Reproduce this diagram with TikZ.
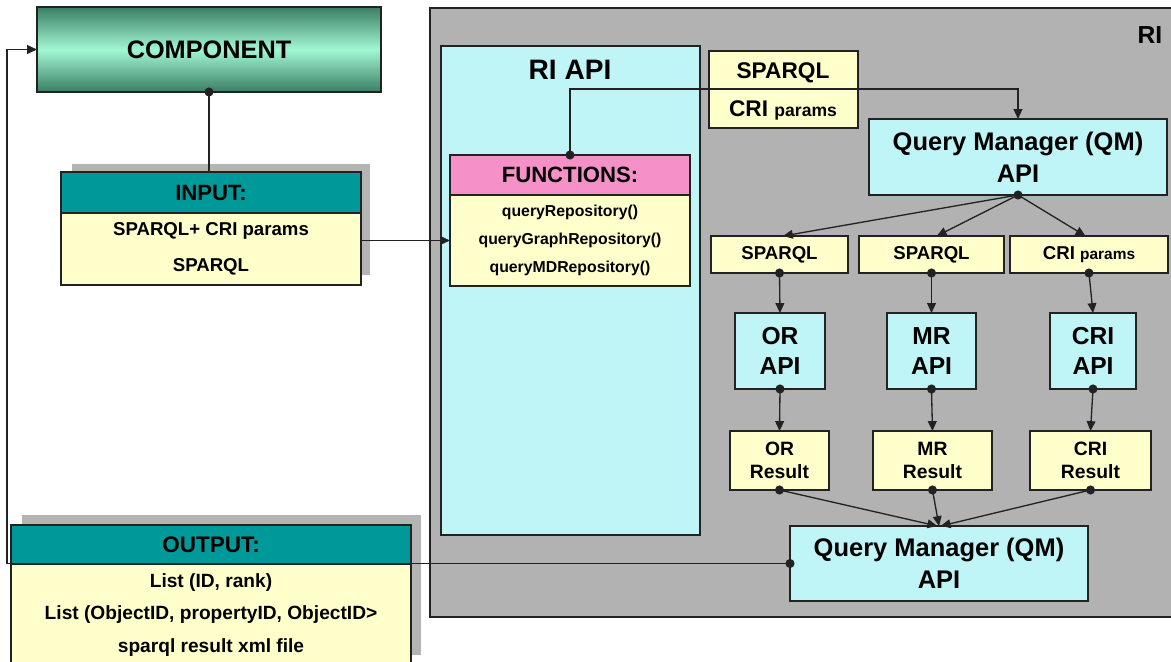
\documentclass[tikz,border=0pt]{standalone}
\usepackage{fontspec}
\setmainfont{Liberation Sans}
\usetikzlibrary{arrows.meta}

\definecolor{linec}{HTML}{222222}
\definecolor{paleyellow}{HTML}{FFFFCC}
\definecolor{palecyan}{HTML}{C0F5F8}
\definecolor{tealhead}{HTML}{009999}
\definecolor{pinkhead}{HTML}{F590C8}
\definecolor{rigray}{HTML}{B2B2B2}
\definecolor{shadowgray}{HTML}{B4B4B4}
\definecolor{greendark}{HTML}{3A7E64}
\definecolor{greenlight}{HTML}{A2F7D3}

\newcommand\setfs[2]{\fontsize{#1}{#2}\selectfont}
\newcommand\jdot[1]{\fill[linec] (#1) circle (2.6pt);}

\tikzset{
  % place a box by its pixel corners (x1,y1,x2,y2)
  px/.style n args={4}{minimum width={(#3-#1)*0.02cm}, minimum height={(#4-#2)*0.02cm},
    at={({(#1+#3)/2},{(#2+#4)/2})}},
  box/.style={draw=linec, line width=0.7pt, inner sep=0pt, outer sep=0pt,
    text=black, font=\bfseries, align=center},
  ybox/.style={box, fill=paleyellow},
  cbox/.style={box, fill=palecyan},
  thead/.style={box, fill=tealhead},
  conn/.style={draw=linec, line width=0.75pt},
  arr/.style={conn, -{Triangle[length=5.6pt,width=5pt]}},
  lbl/.style={inner sep=0pt, text=black, font=\bfseries},
}

\begin{document}
\begin{tikzpicture}[x=0.02cm, y=-0.02cm]
\clip (0,0) rectangle (1171,662);
\fill[white] (0,0) rectangle (1171,662);

% RI container
\node[box, fill=rigray, px={430}{8}{1190}{617}] (ri) {};
\node[lbl, font=\bfseries\setfs{14}{16}] (rilabel) at (1150,35) {RI};

% RI API column
\node[cbox, px={441}{46}{700}{535}] (riapi) {};
\node[lbl, font=\bfseries\setfs{16}{18}] (riapilabel) at (570,70) {RI API};

% FUNCTIONS table
\node[box, fill=pinkhead, px={450}{155}{690}{195}, font=\bfseries\setfs{12.6}{14}] (fhead) {FUNCTIONS:};
\node[ybox, px={450}{195}{690}{286}, font=\bfseries\setfs{9}{15.9}] (fbody)
  {queryRepository()\\queryGraphRepository()\\queryMDRepository()};

% SPARQL / CRI params request
\node[ybox, px={709}{51}{858}{128}] (req) {};
\node[lbl, font=\bfseries\setfs{12.9}{14}] (reqsparql) at (783,73) {SPARQL};
\node[lbl] (reqcri) at (783,110) {\setfs{12.9}{14}CRI \setfs{10}{12}params};

% Query Manager (top)
\node[cbox, px={869}{119}{1167}{195}, font=\bfseries\setfs{14.5}{18}] (qmtop) {Query Manager (QM)\\API};

% query parts
\node[ybox, px={711}{236}{848}{273}, font=\bfseries\setfs{10.6}{12}] (s1) {SPARQL};
\node[ybox, px={859}{236}{1004}{273}, font=\bfseries\setfs{10.6}{12}] (s2) {SPARQL};
\node[ybox, px={1010}{236}{1168}{273}] (s3) {\setfs{10.6}{12}CRI \setfs{8.8}{12}params};

% repository APIs
\node[cbox, px={735}{313}{825}{389}, font=\bfseries\setfs{14}{17}] (a1) {OR\\API};
\node[cbox, px={887}{313}{976}{389}, font=\bfseries\setfs{14}{17}] (a2) {MR\\API};
\node[cbox, px={1050}{313}{1136}{389}, font=\bfseries\setfs{14}{17}] (a3) {CRI\\API};

% results
\node[ybox, px={730}{431}{829}{490}, font=\bfseries\setfs{11}{13}] (r1) {OR\\Result};
\node[ybox, px={873}{431}{992}{490}, font=\bfseries\setfs{11}{13}] (r2) {MR\\Result};
\node[ybox, px={1030}{431}{1151}{490}, font=\bfseries\setfs{11}{13}] (r3) {CRI\\Result};

% Query Manager (bottom)
\node[cbox, px={790}{526}{1088}{601}, font=\bfseries\setfs{14.5}{18}] (qmbot) {Query Manager (QM)\\API};

% COMPONENT
\node[box, px={37}{7}{381}{92}, top color=greendark, bottom color=greendark,
  middle color=greenlight, font=\bfseries\setfs{14.4}{16}] (comp) {COMPONENT};

% INPUT table
\fill[shadowgray] (72,164) rectangle (370,275);
\node[thead, px={61}{172}{361}{213}, font=\bfseries\setfs{12.6}{14}] (inhead) {INPUT:};
\node[ybox, px={61}{213}{361}{285}, font=\bfseries\setfs{10.6}{20.4}] (inbody)
  {SPARQL+ CRI params\\SPARQL};

% OUTPUT table
\fill[shadowgray] (22,515) rectangle (421,655);
\node[thead, px={11}{525}{411}{564}, font=\bfseries\setfs{12.8}{14}] (outhead) {OUTPUT:};
\node[ybox, px={11}{564}{411}{666}, font=\bfseries\setfs{10.9}{18.7}] (outbody)
  {List (ID, rank)\\List (ObjectID, propertyID, ObjectID>\\sparql result xml file};

% connectors
\coordinate (reqbend) at (800,89);
\coordinate (loop) at (7,300);

\draw[conn] (comp.south) -- (comp.south |- inhead.north);
\jdot{comp.south}

\draw[arr] (fbody.west -| inbody.east) -- (fbody.west);

\draw[arr] (fhead.north) |- (reqbend) -| (qmtop.north);
\jdot{fhead.north}

\draw[arr] (qmtop.south) -- ([xshift=2pt]s1.north);
\draw[arr] (qmtop.south) -- ([xshift=3pt]s2.north);
\draw[arr] (qmtop.south) -- ([xshift=-2pt]s3.north);
\jdot{qmtop.south}

\foreach \i in {1,2,3} {
  \draw[arr] (s\i.south) -- (a\i.north);
  \jdot{s\i.south}
  \draw[arr] (a\i.south) -- (r\i.north);
  \jdot{a\i.south}
}
\draw[arr] (r1.south) -- ([xshift=-1pt]qmbot.north);
\draw[arr] (r2.south) -- (qmbot.north);
\draw[arr] (r3.south) -- ([xshift=1pt]qmbot.north);
\jdot{r1.south}
\jdot{r2.south}
\jdot{r3.south}

\draw[arr] (qmbot.west) -| (loop) |- (comp.west);
\jdot{qmbot.west}
\end{tikzpicture}
\end{document}
